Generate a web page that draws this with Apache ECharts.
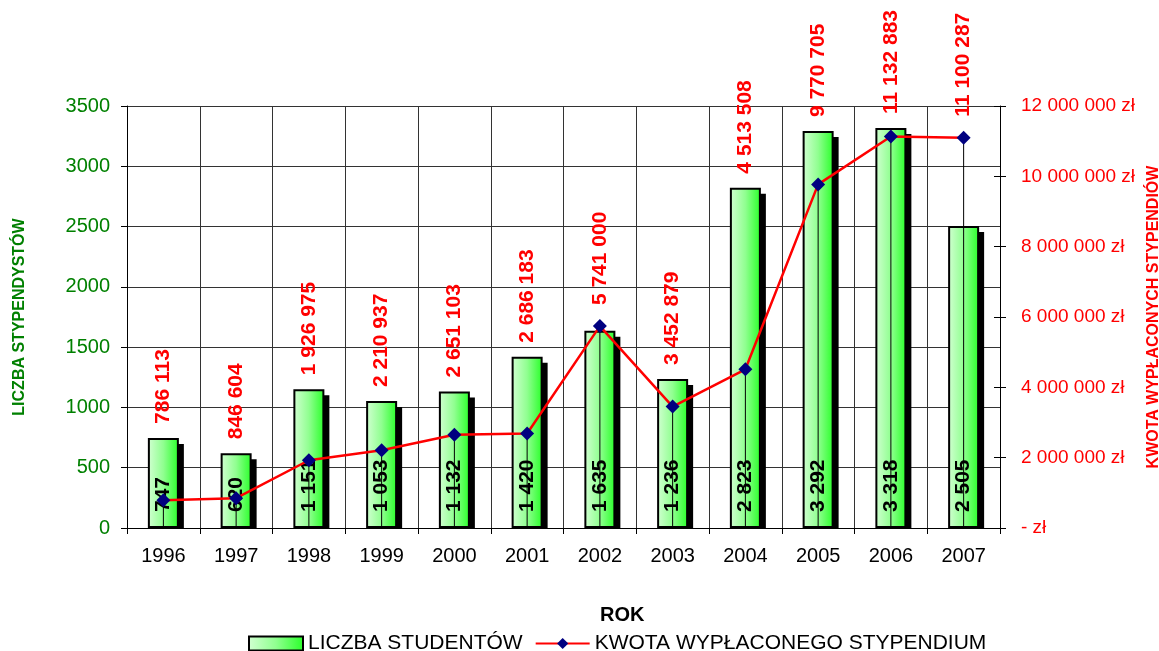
<!DOCTYPE html>
<html>
<head>
<meta charset="utf-8">
<script src="https://cdn.jsdelivr.net/npm/echarts@6/dist/echarts.min.js"></script>
<style>html,body{margin:0;padding:0;background:#fff;}#c{width:1159px;height:651px;}</style>
</head>
<body>
<div id="c"></div>
<script>
const years = ['1996','1997','1998','1999','2000','2001','2002','2003','2004','2005','2006','2007'];
const students = [747, 620, 1151, 1053, 1132, 1420, 1635, 1236, 2823, 3292, 3318, 2505];
const amounts = [786113, 846604, 1926975, 2210937, 2651103, 2686183, 5741000, 3452879, 4513508, 9770705, 11132883, 11100287];
const leftTicks = {min: 0, max: 3500, interval: 500};
const rightTicks = {min: 0, max: 12000000, interval: 2000000};

const FONT = '"Liberation Sans", Arial, sans-serif';
const BAR_W = 31;
function fmt(n) { return String(n).replace(/\B(?=(\d{3})+(?!\d))/g, ' '); }

const chart = echarts.init(document.getElementById('c'), null, {renderer: 'canvas'});

const barGradient = new echarts.graphic.LinearGradient(0, 0, 1, 0, [
  {offset: 0, color: '#d2ffd2'},
  {offset: 0.5, color: '#90ff90'},
  {offset: 1, color: '#28ff28'}
]);

const option = {
  backgroundColor: '#ffffff',
  animation: false,
  textStyle: {fontFamily: FONT},
  grid: {left: 127, right: 159, top: 106, bottom: 123, containLabel: false, outerBoundsMode: 'none'},
  legend: {
    left: 243, top: 628,
    itemWidth: 54, itemHeight: 14, itemGap: 12,
    textStyle: {fontSize: 21, color: '#000', fontFamily: FONT},
    data: [
      {name: 'LICZBA STUDENTÓW', icon: 'rect', itemStyle: {color: barGradient, borderColor: '#000', borderWidth: 2}},
      {name: 'KWOTA WYPŁACONEGO STYPENDIUM'}
    ]
  },
  graphic: [
    {type: 'text', left: 600, top: 605, style: {text: 'ROK', font: 'bold 20px ' + FONT, fill: '#000'}}
  ],
  xAxis: {
    type: 'category', data: years, boundaryGap: true,
    axisLine: {lineStyle: {color: '#000', width: 1}},
    axisTick: {show: true, length: 6, lineStyle: {color: '#000'}},
    axisLabel: {color: '#000', fontSize: 20, margin: 18, fontFamily: FONT},
    splitLine: {show: true, lineStyle: {color: '#333', width: 1}}
  },
  yAxis: [
    {
      type: 'value', position: 'left', min: leftTicks.min, max: leftTicks.max, interval: leftTicks.interval,
      name: 'LICZBA STYPENDYSTÓW', nameLocation: 'middle', nameRotate: 90, nameGap: 99,
      nameTextStyle: {color: '#008000', fontWeight: 'bold', fontSize: 16, fontFamily: FONT},
      axisLine: {show: true, lineStyle: {color: '#000'}},
      axisTick: {show: true, length: 6, lineStyle: {color: '#000'}},
      axisLabel: {color: '#008000', fontSize: 20, margin: 17, fontFamily: FONT, formatter: v => String(v)},
      splitLine: {show: true, lineStyle: {color: '#333', width: 1}}
    },
    {
      type: 'value', position: 'right', min: rightTicks.min, max: rightTicks.max, interval: rightTicks.interval,
      name: 'KWOTA WYPŁACONYCH STYPENDIÓW', nameLocation: 'middle', nameRotate: 90, nameGap: 146,
      nameTextStyle: {color: '#ff0000', fontWeight: 'bold', fontSize: 16, fontFamily: FONT},
      axisLine: {show: true, lineStyle: {color: '#000'}},
      axisTick: {show: true, length: 6, lineStyle: {color: '#000'}},
      axisLabel: {color: '#ff0000', fontSize: 19, margin: 21, fontFamily: FONT,
        formatter: v => v === 0 ? '- zł' : fmt(v) + ' zł'},
      splitLine: {show: false}
    },
    {
      type: 'value', position: 'right', min: rightTicks.min, max: rightTicks.max, interval: rightTicks.interval,
      axisLine: {show: false},
      axisTick: {show: true, inside: true, length: 6, lineStyle: {color: '#000'}},
      axisLabel: {show: false},
      splitLine: {show: false}
    }
  ],
  series: [
    {
      name: 'shadow', type: 'custom', xAxisIndex: 0, yAxisIndex: 0, z: 1, silent: true,
      data: students.map((v, i) => [i, v]),
      renderItem: function (params, api) {
        const top = api.coord([api.value(0), api.value(1)]);
        const base = api.coord([api.value(0), 0]);
        const h = base[1] - top[1] - 6;
        return {type: 'rect', shape: {x: top[0] - BAR_W / 2 + 5, y: top[1] + 6, width: BAR_W, height: Math.max(h, 0)},
          style: {fill: '#000'}};
      }
    },
    {
      name: 'LICZBA STUDENTÓW', type: 'bar', yAxisIndex: 0, z: 2, barWidth: BAR_W,
      data: students,
      itemStyle: {color: barGradient, borderColor: '#000', borderWidth: 2},
      label: {
        show: true, position: 'insideBottom', rotate: 90, align: 'left', verticalAlign: 'middle', distance: 16,
        color: '#000', fontWeight: 'bold', fontSize: 21, fontFamily: FONT,
        formatter: p => fmt(p.value)
      }
    },
    {
      name: 'drop', type: 'custom', xAxisIndex: 0, yAxisIndex: 1, z: 3, silent: true,
      data: amounts.map((v, i) => [i, v]),
      renderItem: function (params, api) {
        const p = api.coord([api.value(0), api.value(1)]);
        const b = api.coord([api.value(0), 0]);
        return {type: 'line', shape: {x1: p[0], y1: p[1], x2: b[0], y2: b[1]}, style: {stroke: '#000', lineWidth: 1}};
      }
    },
    {
      name: 'KWOTA WYPŁACONEGO STYPENDIUM', type: 'line', yAxisIndex: 1, z: 4,
      data: amounts,
      lineStyle: {color: '#ff0000', width: 2.5},
      itemStyle: {color: '#000080'},
      symbol: 'diamond', symbolSize: 14, showAllSymbol: true
    },
    {
      name: 'amountLabels', type: 'custom', xAxisIndex: 0, yAxisIndex: 0, z: 5, silent: true,
      data: students.map((v, i) => [i, v, amounts[i]]),
      renderItem: function (params, api) {
        const i = api.value(0);
        const top = api.coord([i, api.value(1)]);
        const pt = api.coord([i, api.value(2) * leftTicks.max / rightTicks.max]);
        const y = Math.min(top[1], pt[1] - 7) - 14;
        return {type: 'text', x: top[0], y: y, rotation: Math.PI / 2,
          style: {text: fmt(api.value(2)), fill: '#ff0000', font: 'bold 21px ' + FONT, align: 'left', verticalAlign: 'middle'}};
      }
    }
  ]
};
chart.setOption(option);
</script>
</body>
</html>
